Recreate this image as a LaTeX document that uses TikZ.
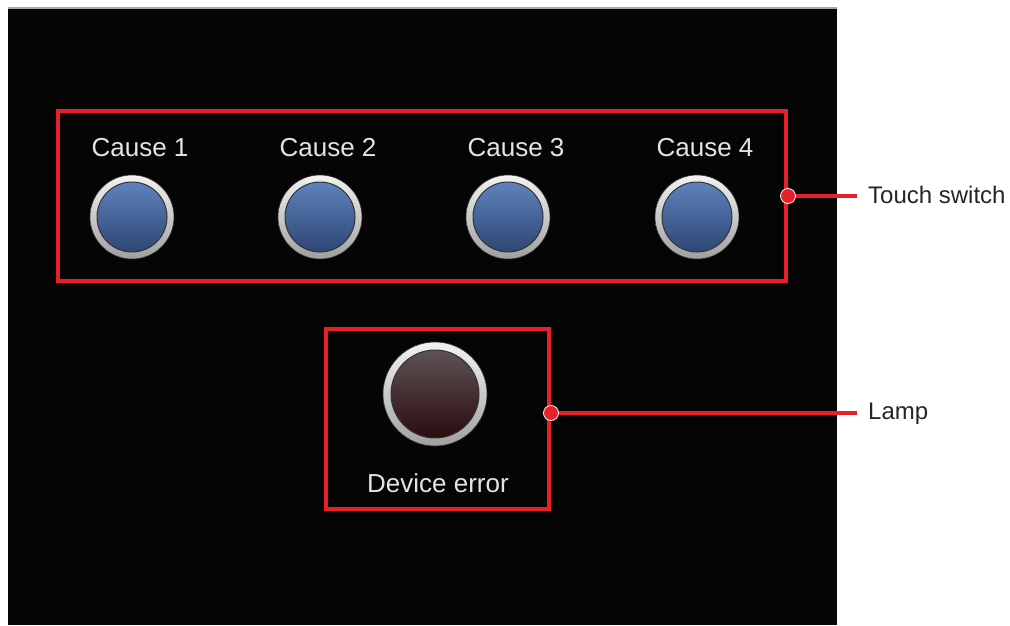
\documentclass[tikz,border=0pt]{standalone}
\usepackage{fontspec}
\setmainfont{Liberation Sans}
\usepackage{tikz}
\usetikzlibrary{positioning}

\definecolor{hmired}{HTML}{E8202A}
\definecolor{screentxt}{HTML}{E4E4E4}
\definecolor{btntop}{HTML}{5E82BC}
\definecolor{btnbot}{HTML}{2E4674}
\definecolor{lamptop}{HTML}{5E5256}
\definecolor{lampbot}{HTML}{2A0C0E}

\tikzset{
  redbox/.style={draw=hmired,line width=4pt,minimum width=#1,inner sep=0pt},
  screenlbl/.style={text=screentxt,font=\fontsize{26}{28}\selectfont,inner sep=0pt},
  calloutlbl/.style={text=black!85,font=\fontsize{24}{26}\selectfont,inner sep=0pt,anchor=west},
  calloutdot/.style={circle,fill=hmired,draw=white,line width=0.8pt,minimum size=15pt,inner sep=0pt},
  ringouter/.style={circle,minimum size=#1,inner sep=0pt,top color=gray!10,bottom color=gray!75,draw=gray!40!black,line width=0.6pt},
}

\begin{document}
\begin{tikzpicture}[x=1pt,y=-1pt]
  \useasboundingbox (0,0) rectangle (1010,625);
  \fill[white] (0,0) rectangle (1010,625);
  % screen
  \fill[black!98] (8,8) rectangle (837,625);
  \draw[gray!70,line width=1.5pt] (8,8) -- (837,8);

  % touch switches
  \foreach \n/\x in {1/132,2/320,3/508,4/697} {
    \node[ringouter=84pt] (ring\n) at (\x,217) {};
    \node[circle,minimum size=70pt,inner sep=0pt,top color=btntop,bottom color=btnbot,draw=gray!40!black,line width=1pt] (cause\n) at (ring\n.center) {};
    \node[screenlbl] (causelbl\n) at (\x+8,148) {Cause \n};
  }

  % lamp
  \node[ringouter=104pt] (lampring) at (435,394) {};
  \node[circle,minimum size=88pt,inner sep=0pt,top color=lamptop,bottom color=lampbot,draw=gray!40!black,line width=1pt] (lamp) at (lampring.center) {};
  \node[screenlbl] (lamplbl) at (438,483) {Device error};

  % frames
  \node[redbox=728pt,minimum height=170pt] (switchbox) at (422,196) {};
  \node[redbox=223pt,minimum height=180pt] (lampbox) at (437.5,419) {};

  % callouts
  \node[calloutlbl] (switchtxt) at (868,195) {Touch switch};
  \node[calloutlbl] (lamptxt) at (868,414) {Lamp};
  \coordinate (switchend) at (857,196);
  \coordinate (lampend) at (857,413);
  \draw[hmired,line width=4pt] (switchbox.east) -- (switchend);
  \draw[hmired,line width=4pt] ([yshift=6pt]lampbox.east) -- (lampend);
  \node[calloutdot] (switchdot) at (switchbox.east) {};
  \node[calloutdot] (lampdot) at ([yshift=6pt]lampbox.east) {};
\end{tikzpicture}
\end{document}
